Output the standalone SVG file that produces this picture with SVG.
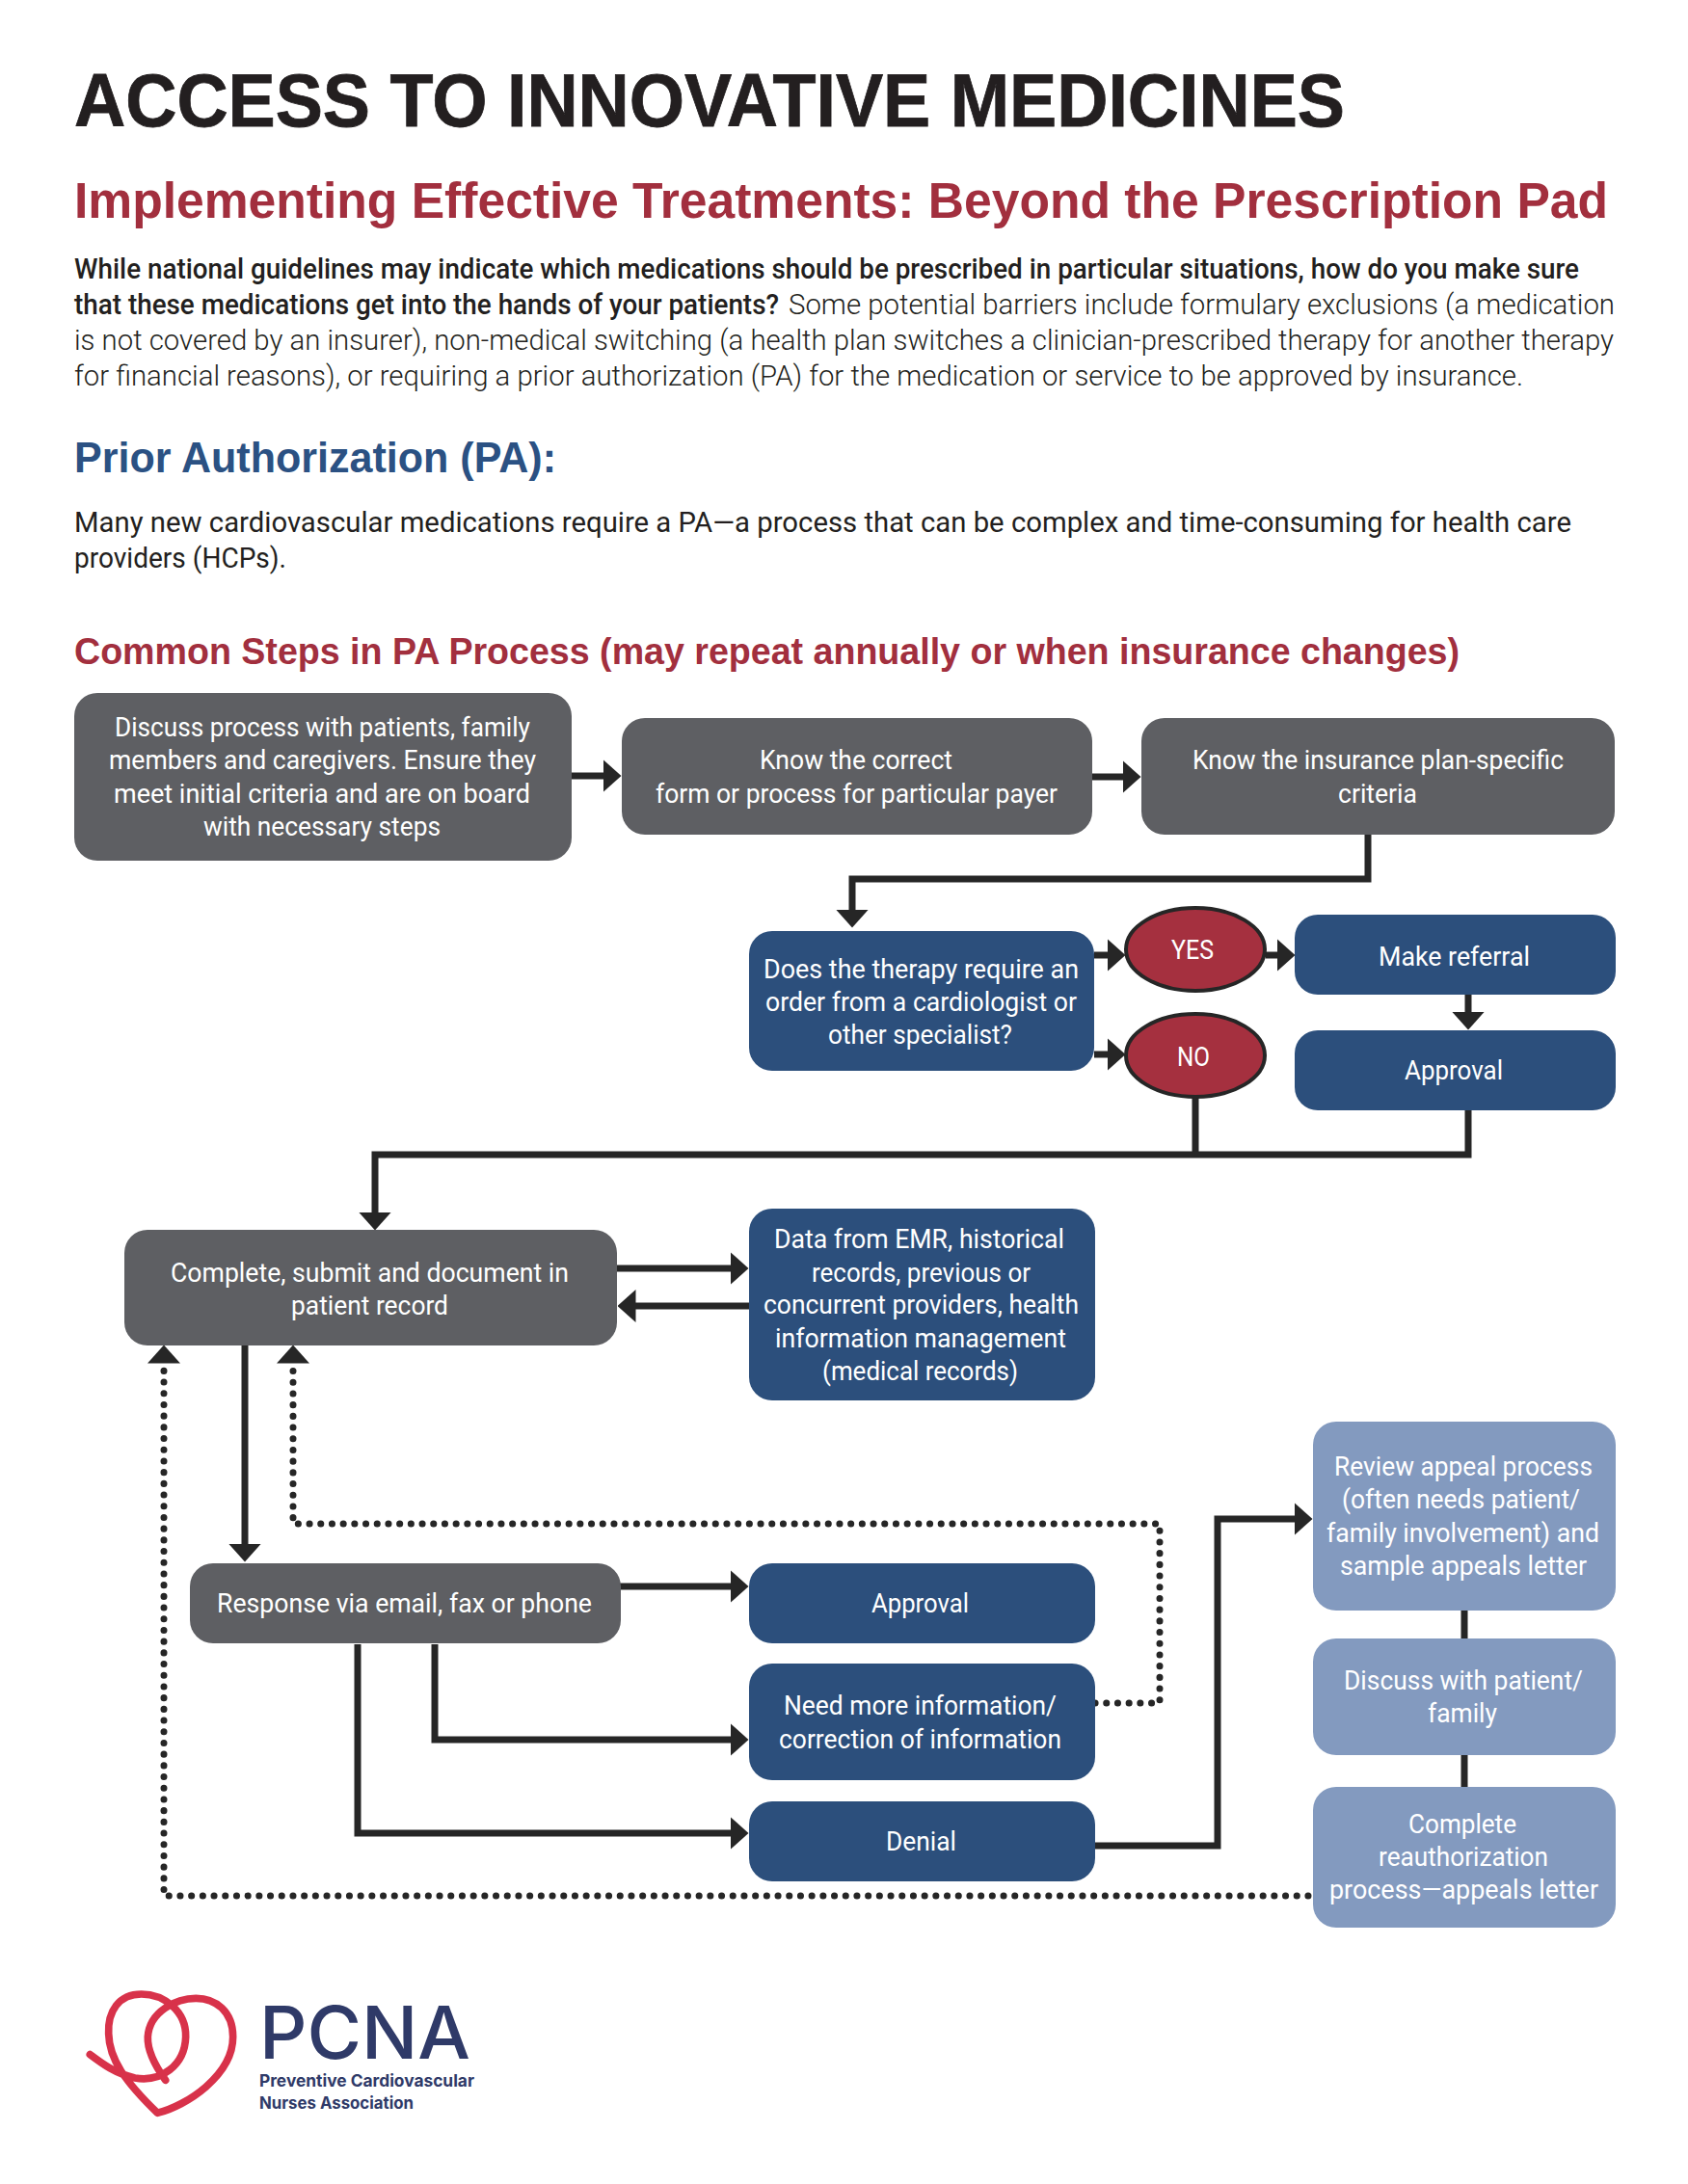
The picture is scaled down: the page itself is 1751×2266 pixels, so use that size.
<svg xmlns="http://www.w3.org/2000/svg" width="1751" height="2266" viewBox="0 0 1751 2266">
<style>
text{font-family:"Liberation Sans",Arial,sans-serif;}
.t{font-size:77px;font-weight:700;fill:#231f20;stroke:#231f20;stroke-width:.8px;}
.s{font-size:51px;font-weight:700;fill:#a22f3e;}
.h2{font-size:44px;font-weight:700;fill:#2b5183;}
.h3{font-size:38px;font-weight:700;fill:#a22f3e;}
.m{font-family:Roboto,"Liberation Sans",sans-serif;font-size:29px;font-weight:500;fill:#231f20;}
.n{font-family:Roboto,"Liberation Sans",sans-serif;font-size:29px;font-weight:400;fill:#231f20;}
.r{font-family:Roboto,"Liberation Sans",sans-serif;font-size:29px;font-weight:300;fill:#231f20;}
.b{font-family:Roboto,"Liberation Sans",sans-serif;font-size:28px;font-weight:400;fill:#fff;}
.g{fill:#5e5f63}.bl{fill:#2c4f7c}.lb{fill:#839abf}
.e{fill:#a5303f;stroke:#262626;stroke-width:4}
.c{fill:none;stroke:#262626;stroke-width:7}
.d{fill:none;stroke:#262626;stroke-width:7;stroke-dasharray:.1 11.6;stroke-linecap:round}
.a{marker-end:url(#ah)}
.p1{font-size:76px;fill:#2f3a68;font-weight:500;font-family:Inter,"Liberation Sans",sans-serif}
.p2{font-size:17.5px;fill:#2f3a68;font-weight:700;font-family:Inter,"Liberation Sans",sans-serif}
</style>
<defs>
<marker id="ah" markerUnits="userSpaceOnUse" viewBox="0 0 19 34" markerWidth="19" markerHeight="34" refX="0.5" refY="17" orient="auto"><path d="M0,0L19,17L0,34z" fill="#262626"/></marker>
</defs>
<rect width="1751" height="2266" fill="#fff"/>
<g id="header">
<text class="t" x="77" y="131" textLength="1318" lengthAdjust="spacingAndGlyphs">ACCESS TO INNOVATIVE MEDICINES</text>
<text class="s" x="77" y="226" textLength="1591" lengthAdjust="spacingAndGlyphs">Implementing Effective Treatments: Beyond the Prescription Pad</text>
<text class="m" x="77" y="289" textLength="1561" lengthAdjust="spacingAndGlyphs">While national guidelines may indicate which medications should be prescribed in particular situations, how do you make sure</text>
<text class="m" x="77" y="326" textLength="731" lengthAdjust="spacingAndGlyphs">that these medications get into the hands of your patients?</text>
<text class="r" x="818" y="326" textLength="857" lengthAdjust="spacingAndGlyphs">Some potential barriers include formulary exclusions (a medication</text>
<text class="r" x="77" y="363" textLength="1597" lengthAdjust="spacingAndGlyphs">is not covered by an insurer), non-medical switching (a health plan switches a clinician-prescribed therapy for another therapy</text>
<text class="r" x="77" y="400" textLength="1503" lengthAdjust="spacingAndGlyphs">for financial reasons), or requiring a prior authorization (PA) for the medication or service to be approved by insurance.</text>
<text class="h2" x="77" y="490" textLength="500" lengthAdjust="spacingAndGlyphs">Prior Authorization (PA):</text>
<text class="n" x="77" y="552" textLength="1553" lengthAdjust="spacingAndGlyphs">Many new cardiovascular medications require a PA—a process that can be complex and time-consuming for health care</text>
<text class="n" x="77" y="589" textLength="220" lengthAdjust="spacingAndGlyphs">providers (HCPs).</text>
<text class="h3" x="77" y="689" textLength="1437" lengthAdjust="spacingAndGlyphs">Common Steps in PA Process (may repeat annually or when insurance changes)</text>
</g>
<g id="connectors">
<path class="c a" d="M593,805H626"/>
<path class="c a" d="M1132,806H1165"/>
<path class="c a" d="M1419,866V912H884V944"/>
<path class="c a" d="M1135,991H1149"/>
<path class="c a" d="M1135,1094H1149"/>
<path class="c a" d="M1313,991H1325"/>
<path class="c a" d="M1523,1032V1050"/>
<path class="c" d="M1240,1139V1198"/>
<path class="c a" d="M1523,1152V1198H389V1258"/>
<path class="c a" d="M640,1316H758"/>
<path class="c a" d="M777,1355H659"/>
<path class="c a" d="M254,1395V1602"/>
<path class="c a" d="M643,1646H758"/>
<path class="c a" d="M451,1706V1805H758"/>
<path class="c a" d="M371,1706V1902H758"/>
<path class="c a" d="M1136,1915H1263V1576H1343"/>
<path class="c" d="M1519,1671V1700M1519,1821V1854"/>
<path class="d a" d="M1136,1767H1203V1581H304V1414"/>
<path class="d a" d="M1357,1967H170V1414"/>
</g>
<g id="n1"><rect class="g" x="77" y="719" width="516" height="174" rx="24"/>
<text class="b" x="119" y="764" textLength="431" lengthAdjust="spacingAndGlyphs">Discuss process with patients, family</text>
<text class="b" x="113" y="798" textLength="443" lengthAdjust="spacingAndGlyphs">members and caregivers. Ensure they</text>
<text class="b" x="118" y="833" textLength="432" lengthAdjust="spacingAndGlyphs">meet initial criteria and are on board</text>
<text class="b" x="211" y="867" textLength="246" lengthAdjust="spacingAndGlyphs">with necessary steps</text></g>
<g id="n2"><rect class="g" x="645" y="745" width="488" height="121" rx="24"/>
<text class="b" x="788" y="798" textLength="200" lengthAdjust="spacingAndGlyphs">Know the correct</text>
<text class="b" x="680" y="833" textLength="417" lengthAdjust="spacingAndGlyphs">form or process for particular payer</text></g>
<g id="n3"><rect class="g" x="1184" y="745" width="491" height="121" rx="24"/>
<text class="b" x="1237" y="798" textLength="385" lengthAdjust="spacingAndGlyphs">Know the insurance plan-specific</text>
<text class="b" x="1388" y="833" textLength="82" lengthAdjust="spacingAndGlyphs">criteria</text></g>
<g id="n4"><rect class="bl" x="777" y="966" width="358" height="145" rx="24"/>
<text class="b" x="792" y="1015" textLength="327" lengthAdjust="spacingAndGlyphs">Does the therapy require an</text>
<text class="b" x="794" y="1049" textLength="323" lengthAdjust="spacingAndGlyphs">order from a cardiologist or</text>
<text class="b" x="859" y="1083" textLength="191" lengthAdjust="spacingAndGlyphs">other specialist?</text></g>
<g id="n5"><ellipse class="e" cx="1240" cy="985" rx="72" ry="43"/>
<text class="b" x="1215" y="995" textLength="44" lengthAdjust="spacingAndGlyphs">YES</text></g>
<g id="n6"><ellipse class="e" cx="1240" cy="1095" rx="72" ry="43"/>
<text class="b" x="1221" y="1106" textLength="34" lengthAdjust="spacingAndGlyphs">NO</text></g>
<g id="n7"><rect class="bl" x="1343" y="949" width="333" height="83" rx="24"/>
<text class="b" x="1430" y="1002" textLength="157" lengthAdjust="spacingAndGlyphs">Make referral</text></g>
<g id="n8"><rect class="bl" x="1343" y="1069" width="333" height="83" rx="24"/>
<text class="b" x="1457" y="1120" textLength="102" lengthAdjust="spacingAndGlyphs">Approval</text></g>
<g id="n9"><rect class="g" x="129" y="1276" width="511" height="120" rx="24"/>
<text class="b" x="177" y="1330" textLength="413" lengthAdjust="spacingAndGlyphs">Complete, submit and document in</text>
<text class="b" x="302" y="1364" textLength="163" lengthAdjust="spacingAndGlyphs">patient record</text></g>
<g id="n10"><rect class="bl" x="777" y="1254" width="359" height="199" rx="24"/>
<text class="b" x="803" y="1295" textLength="301" lengthAdjust="spacingAndGlyphs">Data from EMR, historical</text>
<text class="b" x="842" y="1330" textLength="227" lengthAdjust="spacingAndGlyphs">records, previous or</text>
<text class="b" x="792" y="1363" textLength="327" lengthAdjust="spacingAndGlyphs">concurrent providers, health</text>
<text class="b" x="804" y="1398" textLength="302" lengthAdjust="spacingAndGlyphs">information management</text>
<text class="b" x="853" y="1432" textLength="203" lengthAdjust="spacingAndGlyphs">(medical records)</text></g>
<g id="n11"><rect class="g" x="197" y="1622" width="447" height="83" rx="24"/>
<text class="b" x="225" y="1673" textLength="389" lengthAdjust="spacingAndGlyphs">Response via email, fax or phone</text></g>
<g id="n12"><rect class="bl" x="777" y="1622" width="359" height="83" rx="24"/>
<text class="b" x="904" y="1673" textLength="101" lengthAdjust="spacingAndGlyphs">Approval</text></g>
<g id="n13"><rect class="bl" x="777" y="1726" width="359" height="121" rx="24"/>
<text class="b" x="813" y="1779" textLength="283" lengthAdjust="spacingAndGlyphs">Need more information/</text>
<text class="b" x="808" y="1814" textLength="293" lengthAdjust="spacingAndGlyphs">correction of information</text></g>
<g id="n14"><rect class="bl" x="777" y="1869" width="359" height="83" rx="24"/>
<text class="b" x="919" y="1920" textLength="73" lengthAdjust="spacingAndGlyphs">Denial</text></g>
<g id="n15"><rect class="lb" x="1362" y="1475" width="314" height="196" rx="24"/>
<text class="b" x="1384" y="1531" textLength="268" lengthAdjust="spacingAndGlyphs">Review appeal process</text>
<text class="b" x="1392" y="1565" textLength="247" lengthAdjust="spacingAndGlyphs">(often needs patient/</text>
<text class="b" x="1376" y="1600" textLength="283" lengthAdjust="spacingAndGlyphs">family involvement) and</text>
<text class="b" x="1390" y="1634" textLength="256" lengthAdjust="spacingAndGlyphs">sample appeals letter</text></g>
<g id="n16"><rect class="lb" x="1362" y="1700" width="314" height="121" rx="24"/>
<text class="b" x="1394" y="1753" textLength="248" lengthAdjust="spacingAndGlyphs">Discuss with patient/</text>
<text class="b" x="1481" y="1787" textLength="72" lengthAdjust="spacingAndGlyphs">family</text></g>
<g id="n17"><rect class="lb" x="1362" y="1854" width="314" height="146" rx="24"/>
<text class="b" x="1461" y="1902" textLength="112" lengthAdjust="spacingAndGlyphs">Complete</text>
<text class="b" x="1430" y="1936" textLength="176" lengthAdjust="spacingAndGlyphs">reauthorization</text>
<text class="b" x="1379" y="1970" textLength="279" lengthAdjust="spacingAndGlyphs">process—appeals letter</text></g>
<g id="logo">
<path transform="translate(60,2030) scale(.3333)" fill="none" stroke="#d8324a" stroke-width="23" stroke-linecap="round" stroke-linejoin="round" d="M100,305C140,335 180,365 240,378C320,392 395,340 398,250C400,170 330,117 260,117C190,117 155,170 158,240C160,320 210,390 310,487C400,465 545,370 545,250C545,170 490,130 430,130C370,130 285,170 280,250C278,300 310,350 335,385"/>
<text class="p1" x="269" y="2136" textLength="219" lengthAdjust="spacingAndGlyphs">PCNA</text>
<text class="p2" x="269" y="2165" textLength="223" lengthAdjust="spacingAndGlyphs">Preventive Cardiovascular</text>
<text class="p2" x="269" y="2188" textLength="160" lengthAdjust="spacingAndGlyphs">Nurses Association</text>
</g>
</svg>
